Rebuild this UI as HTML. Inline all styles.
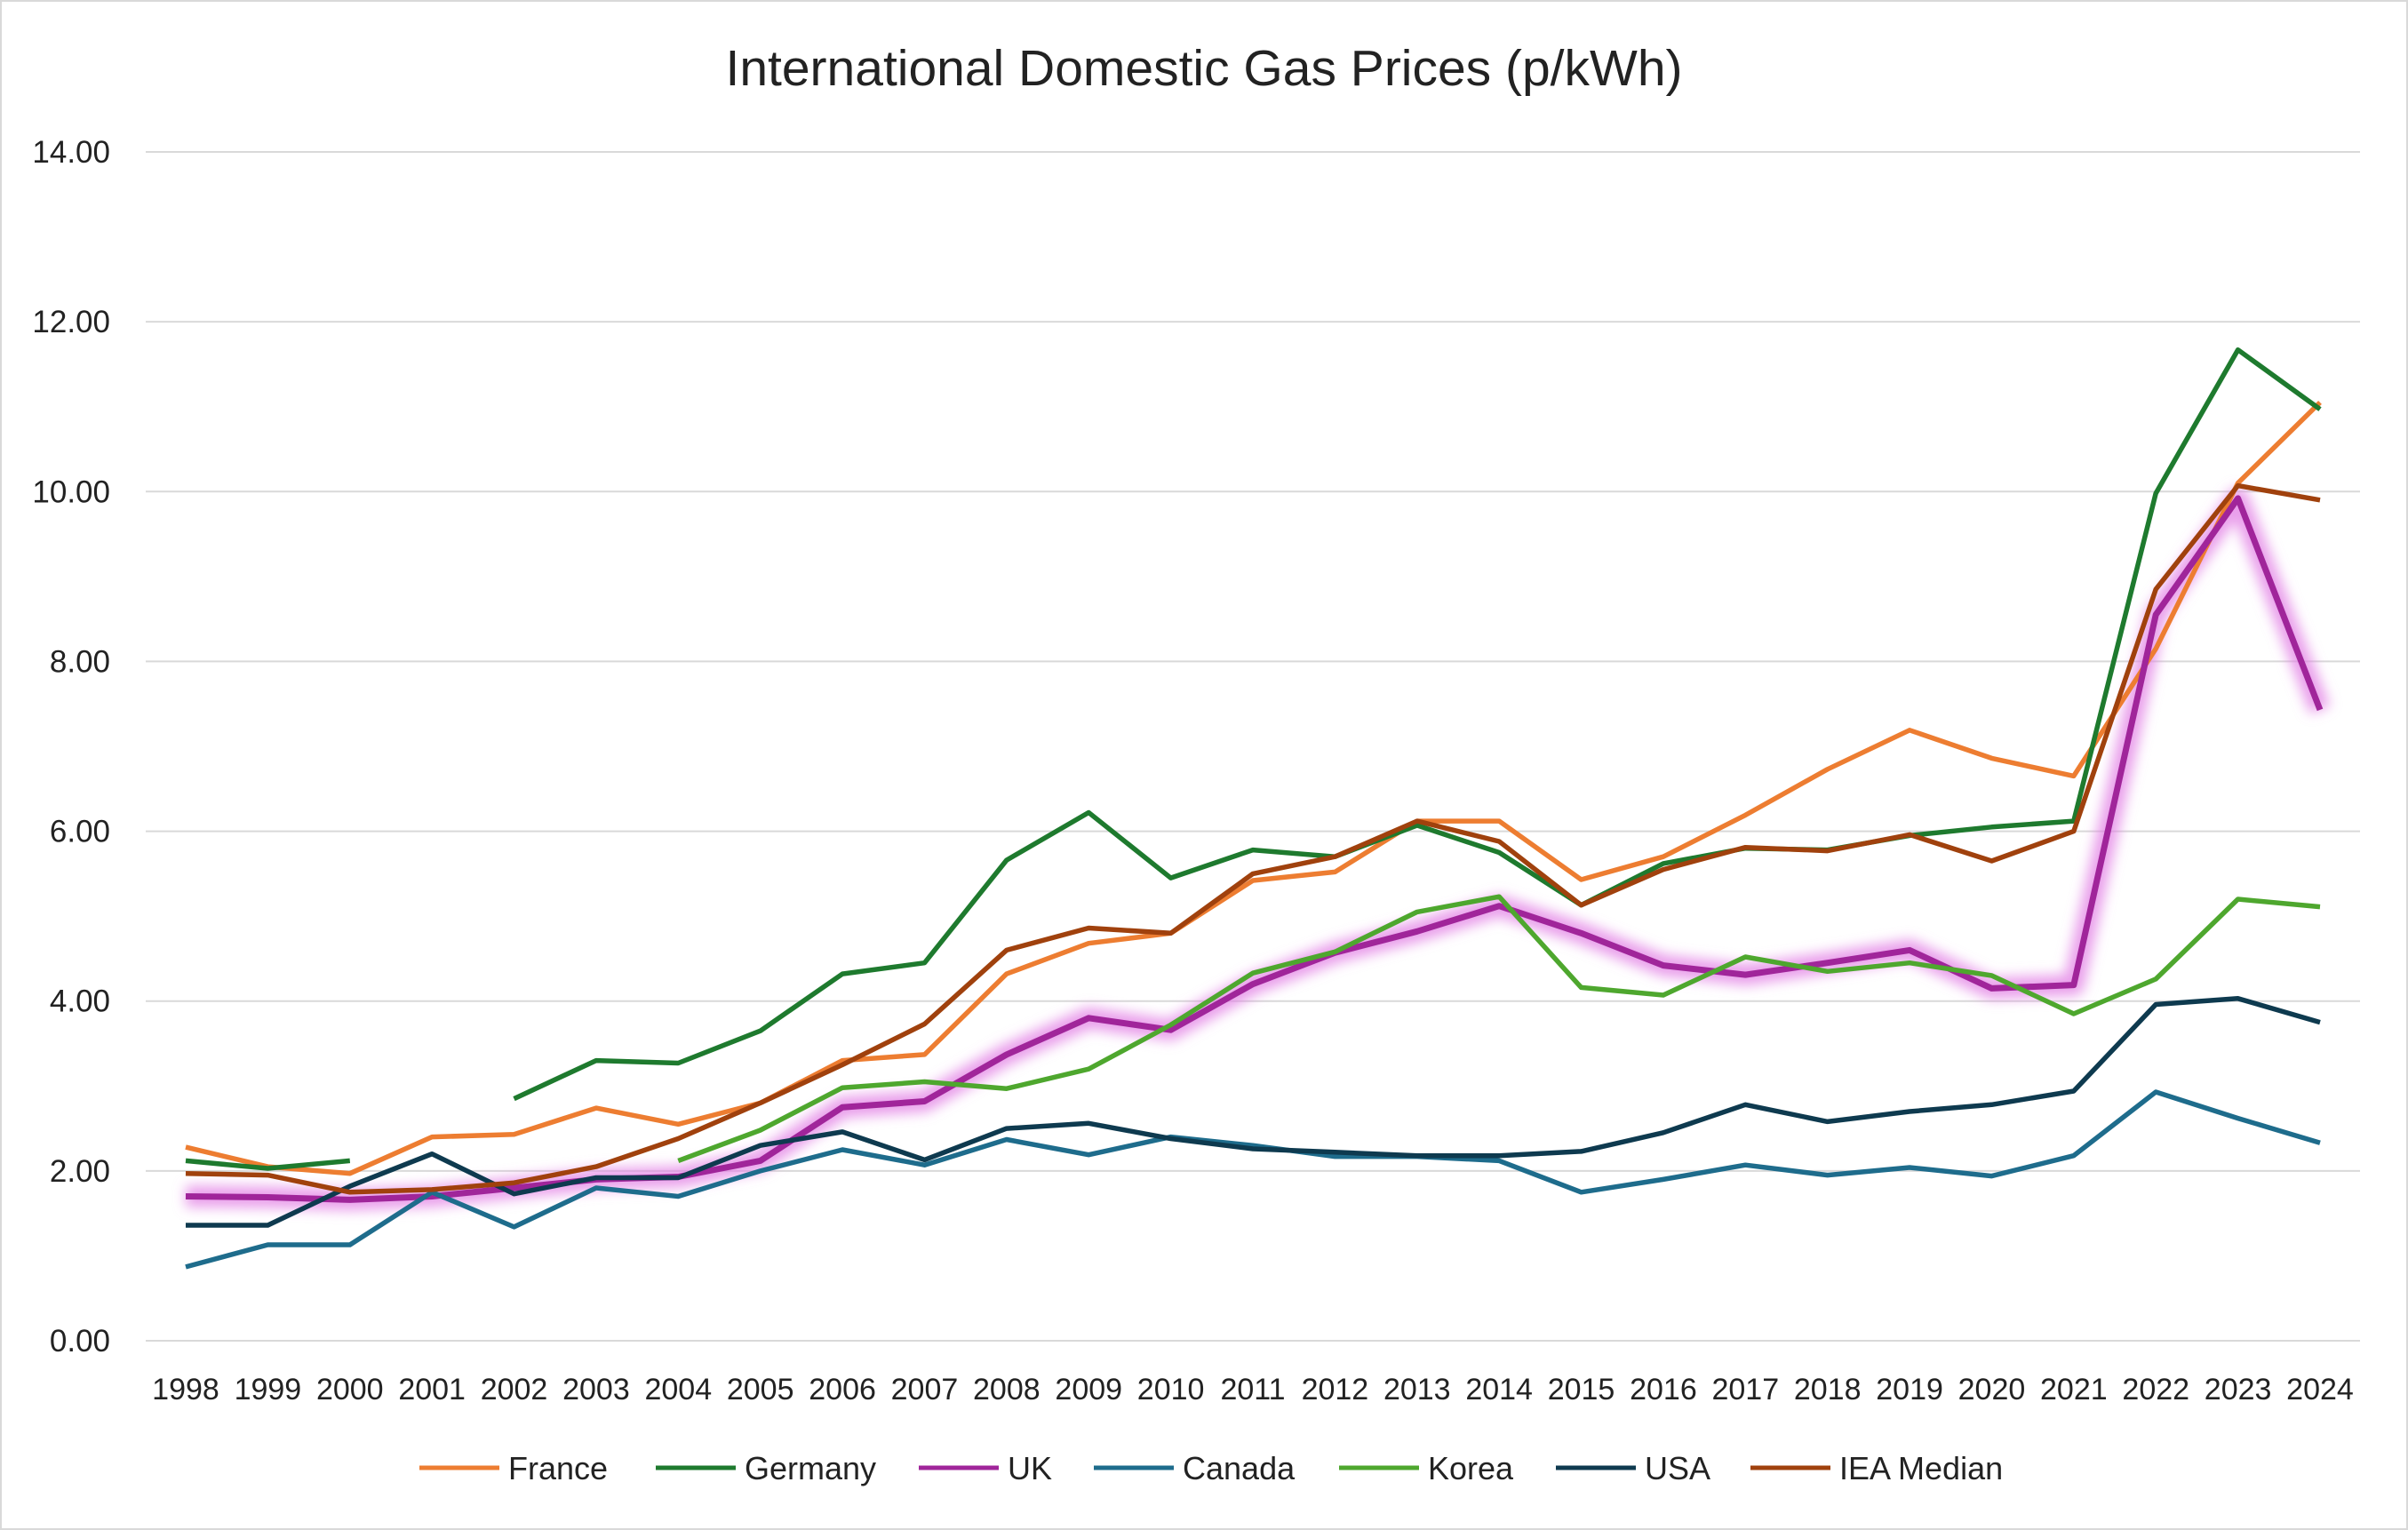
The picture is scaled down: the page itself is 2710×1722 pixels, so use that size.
<!DOCTYPE html>
<html><head><meta charset="utf-8"><style>
body{margin:0;background:#fff}
svg{display:block;font-family:"Liberation Sans",sans-serif}
</style></head><body>
<svg id="chart" width="2710" height="1722" viewBox="0 0 2710 1722">
<defs><filter id="glow" x="-10%" y="-10%" width="120%" height="120%"><feGaussianBlur stdDeviation="7"/></filter></defs>
<rect x="1" y="1" width="2708" height="1720" fill="#fff" stroke="#d9d9d9" stroke-width="2"/>
<text x="1355" y="96" text-anchor="middle" font-size="57" fill="#222">International Domestic Gas Prices (p/kWh)</text>
<g id="grid"></g><g id="xlabels"></g><g id="series"></g><g id="legend"></g>
</svg>
<script>
const years=[1998,1999,2000,2001,2002,2003,2004,2005,2006,2007,2008,2009,2010,2011,2012,2013,2014,2015,2016,2017,2018,2019,2020,2021,2022,2023,2024];
const yTicks=[0,2,4,6,8,10,12,14];
const france=[2.28,2.05,1.97,2.40,2.43,2.74,2.55,2.80,3.30,3.37,4.32,4.68,4.80,5.42,5.52,6.12,6.12,5.43,5.70,6.19,6.73,7.19,6.86,6.65,8.15,10.1,11.05];
const germany=[2.12,2.03,2.12,null,2.85,3.30,3.27,3.65,4.32,4.45,5.66,6.22,5.45,5.78,5.70,6.07,5.75,5.13,5.62,5.80,5.78,5.95,6.05,6.12,9.98,11.67,10.97];
const uk=[1.70,1.69,1.66,1.70,1.80,1.90,1.93,2.12,2.75,2.82,3.37,3.80,3.66,4.20,4.57,4.82,5.12,4.80,4.42,4.31,4.45,4.60,4.15,4.19,8.55,9.92,7.43];
const canada=[0.87,1.13,1.13,1.75,1.34,1.80,1.70,2.00,2.25,2.07,2.37,2.19,2.40,2.30,2.17,2.17,2.12,1.75,1.90,2.07,1.95,2.04,1.94,2.18,2.93,2.62,2.33];
const korea=[null,null,null,null,null,null,2.12,2.48,2.98,3.05,2.97,3.20,3.72,4.33,4.58,5.05,5.23,4.16,4.07,4.52,4.35,4.45,4.30,3.85,4.26,5.20,5.11];
const usa=[1.36,1.36,1.82,2.20,1.73,1.92,1.92,2.30,2.46,2.13,2.50,2.56,2.38,2.26,2.22,2.18,2.18,2.23,2.45,2.78,2.58,2.70,2.78,2.94,3.96,4.03,3.75];
const iea=[1.97,1.95,1.75,1.78,1.86,2.05,2.38,2.80,3.25,3.73,4.60,4.86,4.80,5.50,5.70,6.12,5.88,5.13,5.55,5.81,5.77,5.96,5.65,6.00,8.85,10.07,9.90];
const NS='http://www.w3.org/2000/svg';
const X=i=>209+i*(2611-209)/(years.length-1);
const Y=v=>1509-v*(1509-171)/14;
function mk(tag,attrs,parent){const e=document.createElementNS(NS,tag);for(const k in attrs)e.setAttribute(k,attrs[k]);parent.appendChild(e);return e;}
const grid=document.getElementById('grid');
yTicks.forEach(t=>{
  const l=mk('line',{x1:164,x2:2656,y1:Y(t),y2:Y(t),stroke:'#d9d9d9','stroke-width':2},grid);
  
  
  const tx=mk('text',{x:124,y:Y(t)+12,'text-anchor':'end','font-size':35,fill:'#222'},grid);
  tx.textContent=t.toFixed(2);
  
  
});
const xl=document.getElementById('xlabels');
years.forEach((yr,i)=>{
  const tx=mk('text',{x:X(i),y:1575,'text-anchor':'middle','font-size':34,fill:'#222'},xl);
  tx.textContent=yr;
  
  
});
function pathFor(arr){let d='',pen=false;arr.forEach((v,i)=>{if(v==null){pen=false;return;}d+=(pen?'L':'M')+X(i).toFixed(1)+','+Y(v).toFixed(1);pen=true;});return d;}
const sg=document.getElementById('series');
const series=[
 ['france',france,'#ED7D31','France'],
 ['germany',germany,'#1E7A2E','Germany'],
 ['uk',uk,'#A0259A','UK'],
 ['canada',canada,'#1E6C8C','Canada'],
 ['korea',korea,'#4EA72E','Korea'],
 ['usa',usa,'#0E3A4F','USA'],
 ['iea-median',iea,'#A0410D','IEA Median']
];
const glow=mk('path',{d:pathFor(uk),fill:'none',stroke:'#E27FE4','stroke-width':24,'stroke-opacity':0.75,'stroke-linejoin':'round',filter:'url(#glow)'},sg);


series.forEach(s=>{
  const p=mk('path',{d:pathFor(s[1]),fill:'none',stroke:s[2],'stroke-width':s[0]=='uk'?7:5.5,'stroke-linejoin':'round'},sg);
  
  
});
const lg=document.getElementById('legend');
const lx=[472,738,1034,1231,1507,1751,1970];
series.forEach((s,i)=>{
  const l=mk('line',{x1:lx[i],x2:lx[i]+90,y1:1652,y2:1652,stroke:s[2],'stroke-width':5},lg);
  
  
  const t=mk('text',{x:lx[i]+100,y:1665,'font-size':36,fill:'#222'},lg);
  t.textContent=s[3];
  
  
});
</script>
</body></html>
